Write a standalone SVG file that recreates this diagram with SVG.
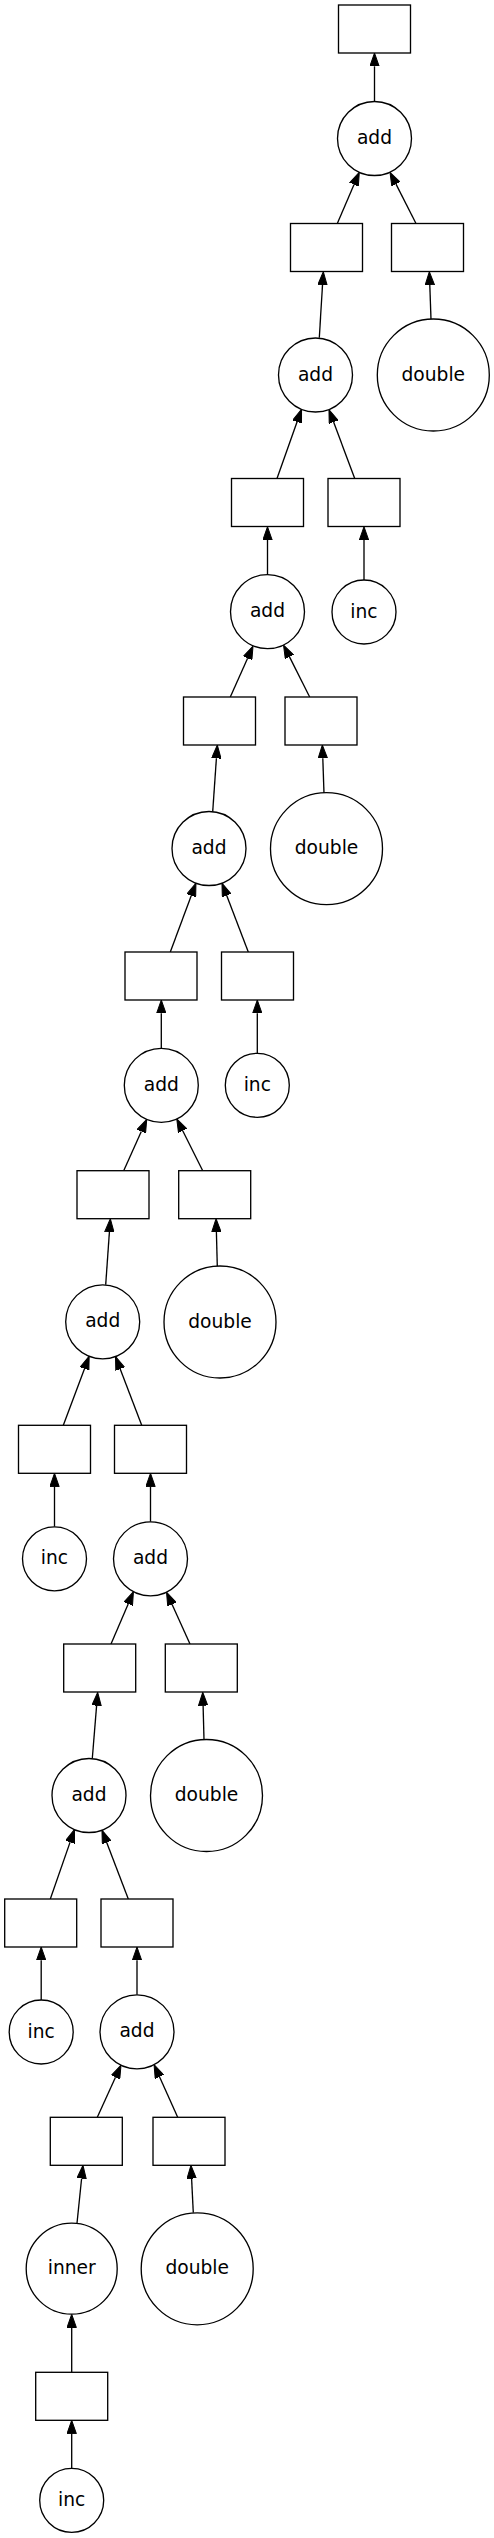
<svg xmlns="http://www.w3.org/2000/svg" width="494" height="2538" viewBox="0 0 494 2538">
<style>
.n rect,.n circle{fill:#fff;stroke:#000;stroke-width:1.33}
.n text{font-family:"DejaVu Sans",sans-serif;font-size:18.67px;text-anchor:middle;fill:#000}
#edges line{stroke:#000;stroke-width:1.33;marker-end:url(#ah)}
</style>
<defs>
<marker id="ah" viewBox="0 -5 13.3 10" refX="0" refY="0" markerWidth="13.3" markerHeight="10" markerUnits="userSpaceOnUse" orient="auto">
<path d="M0,-4.67 L13.3,0 L0,4.67 Z" fill="#000" stroke="#000" stroke-width="1"/>
</marker>
</defs>
<rect width="494" height="2538" fill="#fff"/>
<g id="edges">
<line x1="374.5" y1="101" x2="374.5" y2="66.3"/>
<line x1="337.3" y1="223.5" x2="354.05" y2="184.5"/>
<line x1="416" y1="223.5" x2="396" y2="184.1"/>
<line x1="319.3" y1="337.7" x2="322.5" y2="285"/>
<line x1="431" y1="319.3" x2="429.8" y2="285"/>
<line x1="277" y1="478.5" x2="297.1" y2="421.8"/>
<line x1="354.7" y1="478.5" x2="333.6" y2="422"/>
<line x1="267.5" y1="574.7" x2="267.5" y2="540"/>
<line x1="364" y1="580" x2="364" y2="540"/>
<line x1="230.3" y1="697" x2="247.6" y2="658.2"/>
<line x1="309.7" y1="697" x2="289.5" y2="656.9"/>
<line x1="212.7" y1="811.7" x2="216.4" y2="758.3"/>
<line x1="324" y1="793.3" x2="322.8" y2="758.3"/>
<line x1="170.3" y1="952" x2="191.3" y2="895.6"/>
<line x1="248.3" y1="952" x2="226.7" y2="895.5"/>
<line x1="161.3" y1="1048.3" x2="161.3" y2="1013.3"/>
<line x1="257.3" y1="1053.3" x2="257.3" y2="1013.3"/>
<line x1="123.7" y1="1170.7" x2="141.3" y2="1131.4"/>
<line x1="202.7" y1="1170.7" x2="182.7" y2="1130.8"/>
<line x1="105.7" y1="1284.8" x2="109.4" y2="1232"/>
<line x1="217.3" y1="1266.2" x2="216.4" y2="1232"/>
<line x1="63.3" y1="1425.3" x2="84.5" y2="1368.7"/>
<line x1="141.7" y1="1425.3" x2="120.2" y2="1368.9"/>
<line x1="54.5" y1="1526.8" x2="54.5" y2="1486.6"/>
<line x1="150.5" y1="1521.8" x2="150.5" y2="1486.6"/>
<line x1="111" y1="1644" x2="128.2" y2="1603.9"/>
<line x1="190" y1="1644" x2="172" y2="1604.3"/>
<line x1="92.3" y1="1758.5" x2="96.6" y2="1705.6"/>
<line x1="204" y1="1739.5" x2="203.1" y2="1705.6"/>
<line x1="50.3" y1="1899" x2="70.1" y2="1842.1"/>
<line x1="128.3" y1="1899" x2="106.7" y2="1842.5"/>
<line x1="41.2" y1="2000" x2="41.2" y2="1960.3"/>
<line x1="137" y1="1994.8" x2="137" y2="1960.3"/>
<line x1="97.3" y1="2117.3" x2="115.5" y2="2077.3"/>
<line x1="177.7" y1="2117.3" x2="159.5" y2="2076.8"/>
<line x1="77" y1="2223.2" x2="81.6" y2="2178.5"/>
<line x1="193.3" y1="2212.8" x2="191.6" y2="2178.6"/>
<line x1="71.7" y1="2372.3" x2="71.7" y2="2327.5"/>
<line x1="71.7" y1="2468.3" x2="71.7" y2="2433.6"/>
</g>
<g id="r0" class="n"><rect x="338.5" y="5" width="72" height="48"/></g>
<g id="add1" class="n"><circle cx="374.5" cy="138.5" r="37"/><text x="374.5" y="144.1">add</text></g>
<g id="r1a" class="n"><rect x="290.5" y="223.5" width="72" height="48"/></g>
<g id="r1b" class="n"><rect x="391.5" y="223.5" width="72" height="48"/></g>
<g id="add2" class="n"><circle cx="315.5" cy="375" r="37"/><text x="315.5" y="380.6">add</text></g>
<g id="double1" class="n"><circle cx="433.3" cy="375" r="56"/><text x="433.3" y="380.6">double</text></g>
<g id="r2a" class="n"><rect x="231.5" y="478.5" width="72" height="48"/></g>
<g id="r2b" class="n"><rect x="328" y="478.5" width="72" height="48"/></g>
<g id="add3" class="n"><circle cx="267.5" cy="611.7" r="37"/><text x="267.5" y="617.3">add</text></g>
<g id="inc1" class="n"><circle cx="364" cy="612" r="32"/><text x="364" y="617.6">inc</text></g>
<g id="r3a" class="n"><rect x="183.5" y="697" width="72" height="48"/></g>
<g id="r3b" class="n"><rect x="285" y="697" width="72" height="48"/></g>
<g id="add4" class="n"><circle cx="209" cy="848.5" r="37"/><text x="209" y="854.1">add</text></g>
<g id="double2" class="n"><circle cx="326.5" cy="848.7" r="56"/><text x="326.5" y="854.3">double</text></g>
<g id="r4a" class="n"><rect x="125" y="952" width="72" height="48"/></g>
<g id="r4b" class="n"><rect x="221.5" y="952" width="72" height="48"/></g>
<g id="add5" class="n"><circle cx="161.3" cy="1085.3" r="37"/><text x="161.3" y="1090.9">add</text></g>
<g id="inc2" class="n"><circle cx="257.3" cy="1085.3" r="32"/><text x="257.3" y="1090.9">inc</text></g>
<g id="r5a" class="n"><rect x="77" y="1170.7" width="72" height="48"/></g>
<g id="r5b" class="n"><rect x="178.7" y="1170.7" width="72" height="48"/></g>
<g id="add6" class="n"><circle cx="102.7" cy="1321.8" r="37"/><text x="102.7" y="1327.4">add</text></g>
<g id="double3" class="n"><circle cx="220" cy="1322" r="56"/><text x="220" y="1327.6">double</text></g>
<g id="r6a" class="n"><rect x="18.5" y="1425.3" width="72" height="48"/></g>
<g id="r6b" class="n"><rect x="114.5" y="1425.3" width="72" height="48"/></g>
<g id="inc3" class="n"><circle cx="54.5" cy="1558.8" r="32"/><text x="54.5" y="1564.4">inc</text></g>
<g id="add7" class="n"><circle cx="150.5" cy="1558.8" r="37"/><text x="150.5" y="1564.4">add</text></g>
<g id="r7a" class="n"><rect x="63.7" y="1644" width="72" height="48"/></g>
<g id="r7b" class="n"><rect x="165.3" y="1644" width="72" height="48"/></g>
<g id="add8" class="n"><circle cx="89" cy="1795.5" r="37"/><text x="89" y="1801.1">add</text></g>
<g id="double4" class="n"><circle cx="206.5" cy="1795.5" r="56"/><text x="206.5" y="1801.1">double</text></g>
<g id="r8a" class="n"><rect x="4.7" y="1899" width="72" height="48"/></g>
<g id="r8b" class="n"><rect x="101" y="1899" width="72" height="48"/></g>
<g id="inc4" class="n"><circle cx="41.2" cy="2032" r="32"/><text x="41.2" y="2037.6">inc</text></g>
<g id="add9" class="n"><circle cx="137" cy="2031.8" r="37"/><text x="137" y="2037.4">add</text></g>
<g id="r9a" class="n"><rect x="50.3" y="2117.3" width="72" height="48"/></g>
<g id="r9b" class="n"><rect x="153" y="2117.3" width="72" height="48"/></g>
<g id="inner" class="n"><circle cx="71.7" cy="2268.7" r="45.5"/><text x="71.7" y="2274.3">inner</text></g>
<g id="double5" class="n"><circle cx="197.2" cy="2268.8" r="56"/><text x="197.2" y="2274.4">double</text></g>
<g id="r10" class="n"><rect x="35.7" y="2372.3" width="72" height="48"/></g>
<g id="inc5" class="n"><circle cx="71.7" cy="2500.3" r="32"/><text x="71.7" y="2505.9">inc</text></g>
</svg>
